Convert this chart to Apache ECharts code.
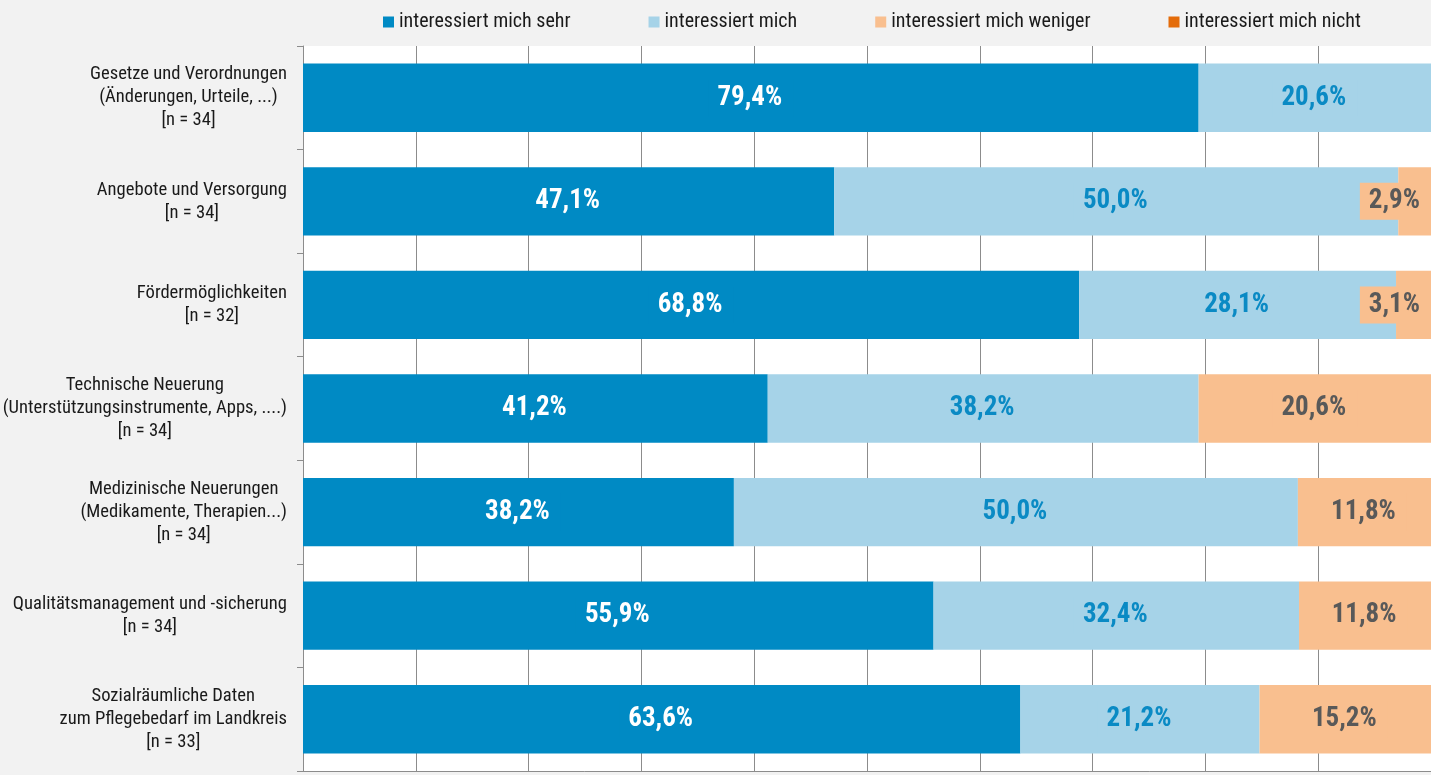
<!DOCTYPE html>
<html>
<head>
<meta charset="utf-8">
<script src="https://cdn.jsdelivr.net/npm/echarts@6/dist/echarts.min.js"></script>
<style>
  html, body { margin: 0; padding: 0; background: #f2f2f2; }
  #chart { width: 1431px; height: 775px; }
</style>
</head>
<body>
<div id="chart"></div>
<script>
const categories = [
  'Gesetze und Verordnungen\n(Änderungen, Urteile, ...)\n[n = 34]',
  'Angebote und Versorgung\n[n = 34]',
  'Fördermöglichkeiten\n[n = 32]',
  'Technische Neuerung\n(Unterstützungsinstrumente, Apps, ....)\n[n = 34]',
  'Medizinische Neuerungen\n(Medikamente, Therapien...)\n[n = 34]',
  'Qualitätsmanagement und -sicherung\n[n = 34]',
  'Sozialräumliche Daten\nzum Pflegebedarf im Landkreis\n[n = 33]'
];
const seriesNames = ['interessiert mich sehr', 'interessiert mich', 'interessiert mich weniger', 'interessiert mich nicht'];
const sehr = [79.4, 47.1, 68.8, 41.2, 38.2, 55.9, 63.6];
const mittel = [20.6, 50.0, 28.1, 38.2, 50.0, 32.4, 21.2];
const weniger = [0, 2.9, 3.1, 20.6, 11.8, 11.8, 15.2];
const nicht = [0, 0, 0, 0, 0, 0, 0];

const FONT = "'Roboto Condensed', sans-serif";
const colors = ['#008ac4', '#a6d3e8', '#f9bf8f', '#e46c0a'];
const labelColors = ['#ffffff', '#0a8ac4', '#595959', '#ffffff'];

const chart = echarts.init(document.getElementById('chart'));

function makeSeries(idx, values) {
  return {
    name: seriesNames[idx],
    type: 'bar',
    stack: 'total',
    barWidth: '66%',
    itemStyle: { color: colors[idx] },
    label: {
      show: true,
      position: 'inside',
      color: labelColors[idx],
      fontFamily: FONT,
      fontWeight: 'bold',
      fontSize: 27,
      backgroundColor: colors[idx],
      padding: [5, 11, 5, 9],
      formatter: (p) => p.value.toFixed(1).replace('.', ',') + '%'
    },
    data: values.map((v) => (v > 0 ? v : { value: 0, label: { show: false } }))
  };
}

const option = {
  backgroundColor: '#f2f2f2',
  legend: {
    left: 378,
    top: 7,
    width: 1045,
    itemWidth: 11,
    itemHeight: 11,
    itemGap: 78,
    icon: 'rect',
    textStyle: { fontFamily: FONT, fontSize: 20, color: '#1a1a1a' },
    data: seriesNames
  },
  grid: {
    left: 303,
    right: 0,
    top: 46,
    bottom: 4,
    outerBoundsMode: 'none',
    containLabel: false,
    show: true,
    backgroundColor: '#ffffff',
    borderWidth: 0
  },
  xAxis: {
    type: 'value',
    min: 0,
    max: 100,
    interval: 10,
    axisLabel: { show: false },
    axisTick: { show: false },
    axisLine: { show: true, lineStyle: { color: '#8c8c8c', width: 1 } },
    splitLine: { show: true, lineStyle: { color: '#8c8c8c', width: 1 } }
  },
  yAxis: {
    type: 'category',
    inverse: true,
    data: categories,
    axisLine: { show: true, lineStyle: { color: '#8c8c8c', width: 1 } },
    axisTick: { show: true, length: 6, lineStyle: { color: '#8c8c8c' } },
    axisLabel: {
      margin: 16,
      align: 'right',
      formatter: (v) => v.split('\n').map((l) => '{c|' + l + '}').join('\n'),
      rich: {
        c: { align: 'center', fontFamily: FONT, fontSize: 18.6, lineHeight: 23, color: '#1a1a1a' }
      }
    }
  },
  labelLayout: function (params) {
    const W = chart.getWidth();
    const r = params.labelRect;
    if (r && r.x + r.width > W) {
      return {
        x: W - r.width / 2,
        y: r.y + r.height / 2,
        align: 'center',
        verticalAlign: 'middle'
      };
    }
    return {};
  },
  series: [
    makeSeries(0, sehr),
    makeSeries(1, mittel),
    makeSeries(2, weniger),
    makeSeries(3, nicht)
  ]
};

chart.setOption(option);
</script>
</body>
</html>
